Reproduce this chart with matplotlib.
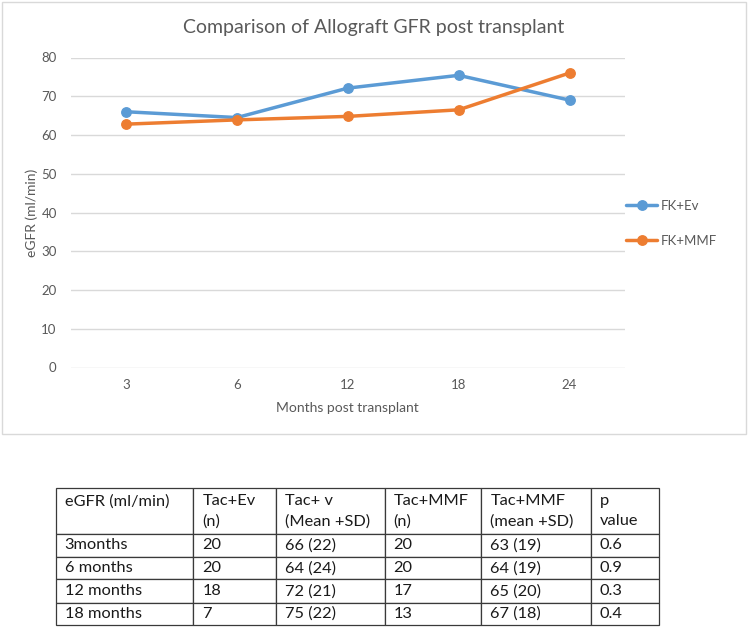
import matplotlib
matplotlib.use('Agg')
import matplotlib.pyplot as plt
from matplotlib.patches import Rectangle

# ---- data ----
months = ['3', '6', '12', '18', '24']
fk_ev = [66.0, 64.5, 72.1, 75.4, 69.0]
fk_mmf = [62.8, 63.9, 64.8, 66.5, 76.0]
series_names = ['FK+Ev', 'FK+MMF']
y_ticks = [0, 10, 20, 30, 40, 50, 60, 70, 80]

table_header = ['eGFR (ml/min)\n ', 'Tac+Ev\n(n)', 'Tac+ v\n(Mean +SD)',
                'Tac+MMF\n(n)', 'Tac+MMF\n(mean +SD)', 'p\nvalue']
row_labels = ['3months', '6 months', '12 months', '18 months']
tac_ev_n = ['20', '20', '18', '7']
tac_ev_mean = ['66 (22)', '64 (24)', '72 (21)', '75 (22)']
tac_mmf_n = ['20', '20', '17', '13']
tac_mmf_mean = ['63 (19)', '64 (19)', '65 (20)', '67 (18)']
p_values = ['0.6', '0.9', '0.3', '0.4']

# ---- style ----
W, H = 748, 627
FONT = 'Lato'
GREY = '#595959'
BLUE = '#5b9bd5'
ORANGE = '#ed7d31'
plt.rcParams['font.family'] = [FONT, 'DejaVu Sans']

fig = plt.figure(figsize=(W / 100, H / 100), dpi=100)

# chart border
fig.patches.append(Rectangle((2 / W, 1 - 434 / H), 744 / W, 432 / H,
                             transform=fig.transFigure, fill=False,
                             edgecolor='#d9d9d9', linewidth=1.0))

ax_l, ax_r, ax_t, ax_b = 70.6, 625.0, 57.5, 367.5
ax = fig.add_axes([ax_l / W, 1 - ax_b / H, (ax_r - ax_l) / W, (ax_b - ax_t) / H])
x = list(range(len(months)))
ax.plot(x, fk_ev, color=BLUE, lw=2.5, marker='o', ms=6.8, label=series_names[0],
        solid_capstyle='round', zorder=3)
ax.plot(x, fk_mmf, color=ORANGE, lw=2.5, marker='o', ms=6.8, label=series_names[1],
        solid_capstyle='round', zorder=3)
ax.set_xlim(-0.5, len(months) - 0.5)
ax.set_ylim(0, 80)
ax.set_yticks(y_ticks)
ax.set_xticks(x)
ax.set_xticklabels(months)
ax.grid(axis='y', color='#d9d9d9', lw=1.0)
ax.set_axisbelow(True)
for s in ax.spines.values():
    s.set_visible(False)
ax.tick_params(axis='both', length=0, labelsize=9.5, labelcolor=GREY)
ax.tick_params(axis='y', pad=10)
ax.tick_params(axis='x', pad=8)
ax.set_xlabel('Months post transplant', fontsize=10, color=GREY, va='center')
ax.xaxis.set_label_coords(0.5, (ax_b - 408) / (ax_b - ax_t))
ax.set_ylabel('eGFR (ml/min)', fontsize=10, color=GREY, va='center')
ax.yaxis.set_label_coords((32 - ax_l) / (ax_r - ax_l), 0.5)

fig.text(374 / W, 1 - 27 / H, 'Comparison of Allograft GFR post transplant',
         ha='center', va='center', fontsize=14, color=GREY)

leg = fig.legend(loc='upper left', bbox_to_anchor=(626 / W, 1 - 200 / H),
                 frameon=False, fontsize=9.5, handlelength=2.35,
                 handletextpad=0.3, labelspacing=1.75, borderpad=0,
                 borderaxespad=0)
for t in leg.get_texts():
    t.set_color(GREY)

# ---- table ----
tax = fig.add_axes([0, 0, 1, 1])
tax.set_axis_off()
col_edges = [55.7, 193.3, 275.7, 384.7, 481.3, 590.7, 659.0]
row_heights = [45.7, 22.7, 22.7, 23.4, 22.3]
cell_text = [list(r) for r in zip(row_labels, tac_ev_n, tac_ev_mean,
                                  tac_mmf_n, tac_mmf_mean, p_values)]
t_top, t_bot = 488.3, 488.3 + sum(row_heights)
tbl = tax.table(cellText=[table_header] + cell_text, cellLoc='left',
                bbox=[col_edges[0] / W, 1 - t_bot / H,
                      (col_edges[-1] - col_edges[0]) / W, (t_bot - t_top) / H])
tbl.auto_set_font_size(False)
tbl.set_fontsize(11.8)
for (r, c), cell in tbl.get_celld().items():
    wpx = col_edges[c + 1] - col_edges[c]
    cell.set_width(wpx)
    cell.set_height(row_heights[r])
    cell.PAD = 9 / wpx
    cell.set_edgecolor('#3a3a3a')
    cell.set_linewidth(0.9)
    cell.get_text().set_color('#1a1a1a')
    cell.get_text().set_linespacing(1.55)

fig.savefig('out.png', dpi=100)
